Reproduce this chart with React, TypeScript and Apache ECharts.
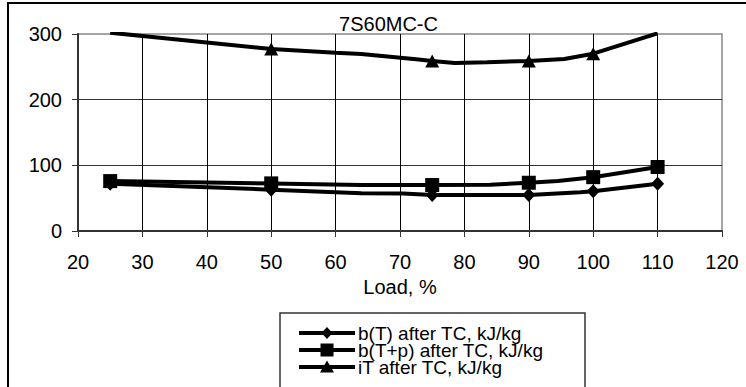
import React, { useEffect, useRef } from "react";
import * as echarts from "echarts";

const chartTitle = "7S60MC-C";
const xAxisName = "Load, %";

// b(T) after TC
const loadBT = [25, 50, 64, 70.5, 75, 90, 98, 100, 110];
const valBT = [72, 63, 57.5, 57, 55, 55, 59, 60.5, 72];
const markBT = [25, 50, 75, 90, 100, 110];

// b(T+p) after TC
const loadBTP = [25, 50, 64, 75, 84, 90, 94.5, 100, 110];
const valBTP = [76, 72.5, 70, 70, 70.5, 73.5, 76, 82, 97.5];
const markBTP = [25, 50, 75, 90, 100, 110];

// iT after TC
const loadIT = [25, 50, 60, 64, 72.5, 75, 78.5, 83.5, 90, 95.5, 100, 110];
const valIT = [302, 277, 271.5, 269.5, 261.5, 259, 256, 257, 259, 262, 270, 301];
const markIT = [50, 75, 90, 100];

const seriesNames = ["b(T) after TC, kJ/kg", "b(T+p) after TC, kJ/kg", "iT after TC, kJ/kg"];
const legendSymbols = ["diamond", "square", "triangle"];

const FONT = "'Liberation Sans', Arial, sans-serif";

function build(loads: number[], vals: number[], marks: number[], sym: string) {
  return loads.map((x, i) => ({
    value: [x, vals[i]],
    symbol: marks.includes(x) ? sym : "none",
  }));
}

function legendGraphics() {
  const els: any[] = [];
  const x0 = 299;
  const x1 = 355;
  const cx = (x0 + x1) / 2;
  seriesNames.forEach((name, i) => {
    const cy = 333 + 17 * i;
    els.push({
      type: "line",
      shape: { x1: x0, y1: cy, x2: x1, y2: cy },
      style: { stroke: "#000", lineWidth: 4 },
      z: 20,
      silent: true,
    });
    const s = legendSymbols[i];
    if (s === "diamond") {
      els.push({
        type: "polygon",
        shape: { points: [[cx, cy - 6], [cx + 5.5, cy], [cx, cy + 6], [cx - 5.5, cy]] },
        style: { fill: "#000" },
        z: 21,
        silent: true,
      });
    } else if (s === "square") {
      els.push({
        type: "rect",
        shape: { x: cx - 6.5, y: cy - 6.5, width: 13, height: 13 },
        style: { fill: "#000" },
        z: 21,
        silent: true,
      });
    } else {
      els.push({
        type: "polygon",
        shape: { points: [[cx, cy - 6.5], [cx + 7, cy + 5.5], [cx - 7, cy + 5.5]] },
        style: { fill: "#000" },
        z: 21,
        silent: true,
      });
    }
    els.push({
      type: "text",
      x: 358,
      y: cy,
      style: {
        text: name,
        fill: "#000",
        font: `19px ${FONT}`,
        textAlign: "left",
        textVerticalAlign: "middle",
      },
      z: 21,
      silent: true,
    });
  });
  return els;
}

export default function App() {
  const ref = useRef<HTMLDivElement>(null);
  useEffect(() => {
    if (!ref.current) return;
    const chart = echarts.init(ref.current, null, { renderer: "svg" });
    const lineSeries = (name: string, data: any[], sym: string, size: number | number[]) => ({
      name,
      type: "line",
      data,
      symbol: sym,
      symbolSize: size,
      showSymbol: true,
      showAllSymbol: true,
      smooth: false,
      lineStyle: { color: "#000", width: 4 },
      itemStyle: { color: "#000", borderWidth: 0 },
      emphasis: { disabled: true },
    });
    chart.setOption({
      animation: false,
      textStyle: { fontFamily: FONT },
      graphic: [
        {
          type: "rect",
          shape: { x: 8, y: 3, width: 780, height: 420 },
          style: { fill: "none", stroke: "#000", lineWidth: 2 },
          silent: true,
          z: -10,
        },
        {
          type: "text",
          x: 388.5,
          y: 14,
          style: {
            text: chartTitle,
            fill: "#000",
            font: `20px ${FONT}`,
            textAlign: "center",
            textVerticalAlign: "top",
          },
        },
        {
          type: "rect",
          shape: { x: 280, y: 313, width: 305, height: 120 },
          style: { fill: "#fff", stroke: "#333", lineWidth: 1.5 },
          silent: true,
          z: 5,
        },
        ...legendGraphics(),
      ],
      grid: {
        left: 78,
        right: 24,
        top: 34,
        bottom: 156,
        show: true,
        borderColor: "#888",
        borderWidth: 1.5,
      },
      legend: { show: false },
      xAxis: {
        type: "value",
        min: 20,
        max: 120,
        interval: 10,
        name: xAxisName,
        nameLocation: "middle",
        nameGap: 45,
        nameTextStyle: { color: "#000", fontSize: 20, fontFamily: FONT },
        axisLine: { show: true, lineStyle: { color: "#333", width: 2 } },
        axisTick: { show: true, inside: false, length: 6, lineStyle: { color: "#333", width: 1 } },
        axisLabel: { color: "#000", fontSize: 20, margin: 21, fontFamily: FONT },
        splitLine: { show: true, showMaxLine: false, lineStyle: { color: "#000", width: 1 } },
      },
      yAxis: {
        type: "value",
        min: 0,
        max: 300,
        interval: 100,
        axisLine: { show: true, lineStyle: { color: "#333", width: 2 } },
        axisTick: { show: true, inside: false, length: 6, lineStyle: { color: "#333", width: 1 } },
        axisLabel: { color: "#000", fontSize: 20, margin: 16, fontFamily: FONT },
        splitLine: { show: true, showMaxLine: false, lineStyle: { color: "#333", width: 1 } },
      },
      series: [
        lineSeries(seriesNames[2], build(loadIT, valIT, markIT, "triangle"), "triangle", [14, 13]),
        lineSeries(seriesNames[0], build(loadBT, valBT, markBT, "diamond"), "diamond", [13, 14]),
        lineSeries(seriesNames[1], build(loadBTP, valBTP, markBTP, "rect"), "rect", 14),
      ],
    });
    return () => chart.dispose();
  }, []);
  return (
    <div
      ref={ref}
      style={{ position: "absolute", left: 0, top: 0, width: 746, height: 387 }}
    />
  );
}
